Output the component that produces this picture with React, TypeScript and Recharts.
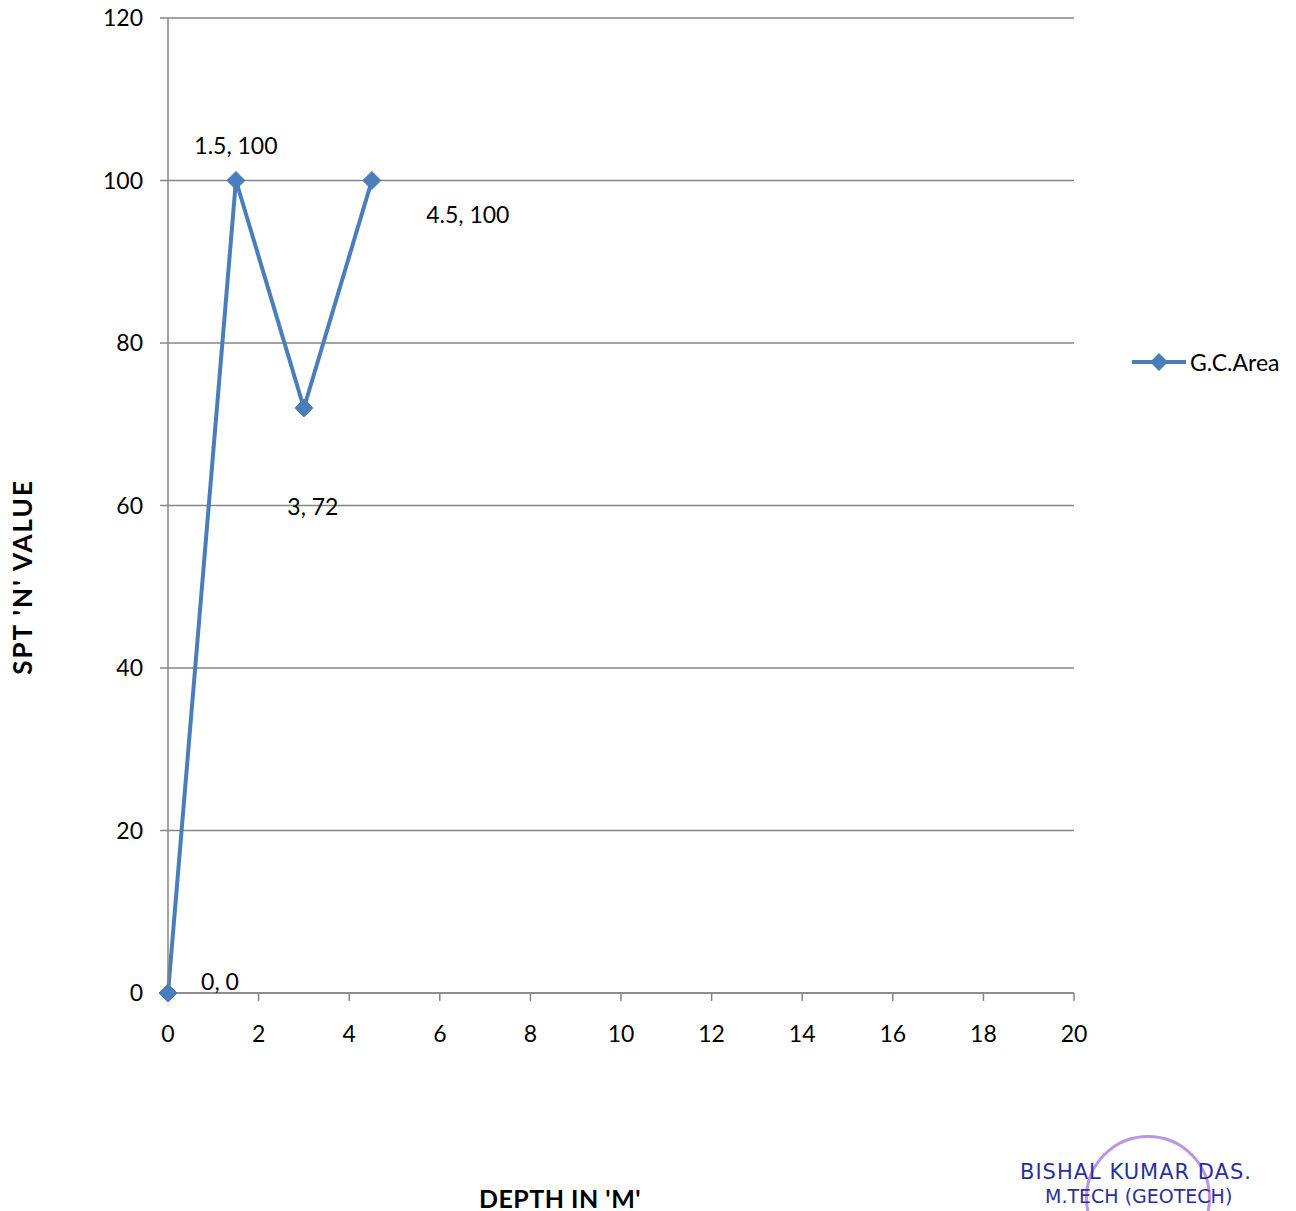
import React from "react"
import {
    LineChart,
    Line,
    XAxis,
    YAxis,
    CartesianGrid,
    LabelList,
} from "recharts"

// depth (m) vs SPT N value
const depths = [0, 1.5, 3, 4.5]
const nValues = [0, 100, 72, 100]
const xTicks = [0, 2, 4, 6, 8, 10, 12, 14, 16, 18, 20]
const yTicks = [0, 20, 40, 60, 80, 100, 120]
const seriesName = "G.C.Area"

// manual label placement, like the excel sheet (dx, dy from the point)
const labelOffsets = [
    [52, -12],
    [0, -36],
    [9, 98],
    [96, 33],
]

const BLUE = "#4a7ebb"
const GREY = "#868686"
const FONT = "Lato, 'Noto Sans', sans-serif"

const data = depths.map((d, i) => ({ depth: d, n: nValues[i] }))

const Diamond = (props: any) => {
    const { cx, cy } = props
    if (cx == null || cy == null) return null
    const r = 9
    return (
        <polygon
            points={`${cx},${cy - r} ${cx + r},${cy} ${cx},${cy + r} ${cx - r},${cy}`}
            fill={BLUE}
            stroke={BLUE}
        />
    )
}

const PointLabel = (props: any) => {
    const { x, y, index } = props
    const [dx, dy] = labelOffsets[index] || [0, -20]
    return (
        <text
            x={x + dx}
            y={y + dy}
            textAnchor="middle"
            dominantBaseline="central"
            fontSize={23}
            fontFamily={FONT}
            fill="#000"
        >
            {`${depths[index]}, ${nValues[index]}`}
        </text>
    )
}

export default function App() {
    return (
        <div style={{ position: "absolute", left: 0, top: 0, width: 1296, height: 1211, background: "#fff" }}>
            <LineChart
                width={1296}
                height={1211}
                data={data}
                margin={{ top: 18, right: 222, bottom: 178, left: 108 }}
            >
                <CartesianGrid horizontal vertical={false} stroke={GREY} strokeWidth={1.5} />
                <XAxis
                    dataKey="depth"
                    type="number"
                    domain={[0, 20]}
                    ticks={xTicks}
                    interval={0}
                    height={40}
                    stroke={GREY}
                    strokeWidth={1.5}
                    tickSize={8}
                    tickMargin={25}
                    tick={{ fill: "#000", fontSize: 23, fontFamily: FONT }}
                />
                <YAxis
                    dataKey="n"
                    type="number"
                    domain={[0, 120]}
                    ticks={yTicks}
                    interval={0}
                    width={60}
                    stroke={GREY}
                    strokeWidth={1.5}
                    tickSize={8}
                    tickMargin={17}
                    tick={{ fill: "#000", fontSize: 23, fontFamily: FONT }}
                />
                <Line
                    dataKey="n"
                    name={seriesName}
                    stroke={BLUE}
                    strokeWidth={4}
                    dot={<Diamond />}
                    activeDot={false}
                    isAnimationActive={false}
                >
                    <LabelList dataKey="n" content={<PointLabel />} />
                </Line>
            </LineChart>

            {/* legend */}
            <div
                style={{
                    position: "absolute",
                    left: 1130,
                    top: 348,
                    display: "flex",
                    alignItems: "center",
                    fontFamily: FONT,
                    fontSize: 23,
                }}
            >
                <svg width={58} height={26}>
                    <line x1={2} y1={13} x2={56} y2={13} stroke={BLUE} strokeWidth={4} />
                    <polygon points="29,4 38,13 29,22 20,13" fill={BLUE} />
                </svg>
                <span style={{ marginLeft: 2 }}>{seriesName}</span>
            </div>

            {/* axis titles */}
            <div
                style={{
                    position: "absolute",
                    left: 22,
                    top: 577,
                    transform: "translate(-50%, -50%) rotate(-90deg)",
                    fontFamily: FONT,
                    fontWeight: 700,
                    fontSize: 26,
                    letterSpacing: 2,
                    whiteSpace: "nowrap",
                }}
            >
                SPT 'N' VALUE
            </div>
            <div
                style={{
                    position: "absolute",
                    left: 560,
                    top: 1198,
                    transform: "translate(-50%, -50%)",
                    fontFamily: FONT,
                    fontWeight: 700,
                    fontSize: 25,
                    letterSpacing: 0.5,
                    whiteSpace: "nowrap",
                }}
            >
                DEPTH IN 'M'
            </div>

            {/* signature / seal */}
            <div style={{ position: "absolute", left: 1085, top: 1135, width: 120, height: 120, borderRadius: "50%", border: "3px solid #8a4fd0", opacity: 0.6 }} />
            <div style={{ position: "absolute", left: 1020, top: 1160, fontFamily: "'DejaVu Sans', sans-serif", fontSize: 21, color: "#2b2f9e", whiteSpace: "nowrap", letterSpacing: 1 }}>
                BISHAL KUMAR DAS.
            </div>
            <div style={{ position: "absolute", left: 1045, top: 1185, fontFamily: "'DejaVu Sans', sans-serif", fontSize: 19, color: "#2b2f9e", whiteSpace: "nowrap" }}>
                M.TECH (GEOTECH)
            </div>
        </div>
    )
}
